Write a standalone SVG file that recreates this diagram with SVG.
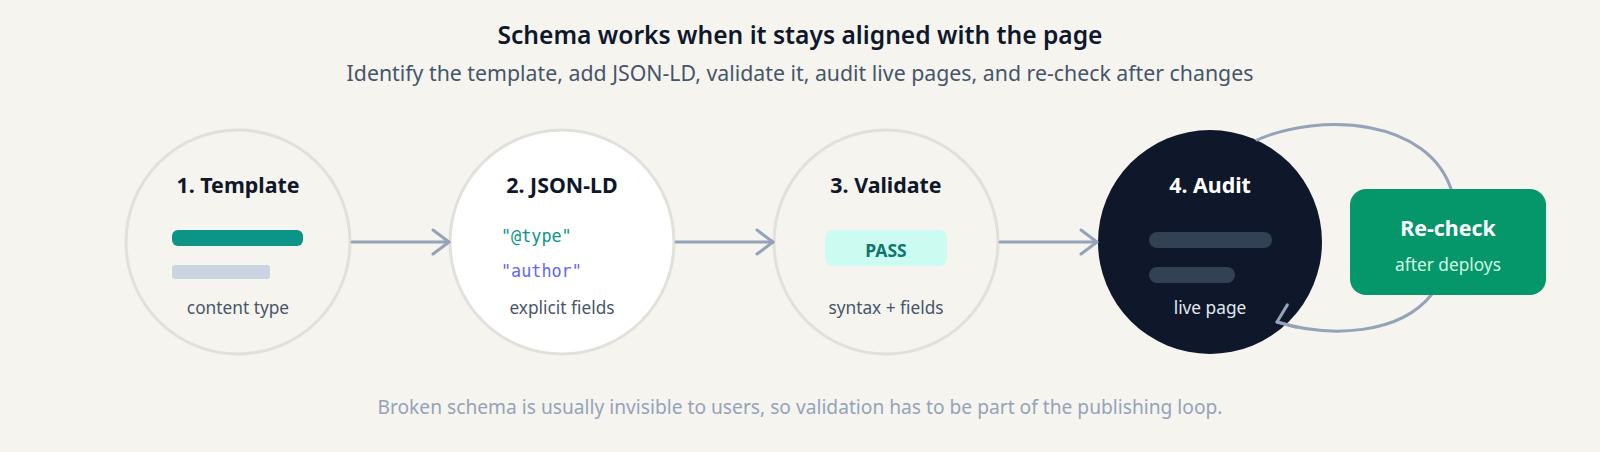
<svg xmlns="http://www.w3.org/2000/svg" width="1600" height="452" viewBox="0 0 1600 452">
  <style>
    .title { font-family: "Noto Sans", "Open Sans", sans-serif; font-size: 24.6px; font-weight: 600; fill: #0f172a; }
    .subtitle { font-family: "Noto Sans", "Open Sans", sans-serif; font-size: 21.3px; fill: #475569; }
    .footer { font-family: "Noto Sans", "Open Sans", sans-serif; font-size: 19.2px; fill: #94a3b8; }
    .ring { fill: #f5f4ef; stroke: #e2e0da; stroke-width: 3; }
    .head { font-family: "Noto Sans", "Open Sans", sans-serif; font-size: 21.4px; font-weight: 700; fill: #0f172a; text-anchor: middle; }
    .label { font-family: "Noto Sans", "Open Sans", sans-serif; font-size: 17.3px; fill: #475569; text-anchor: middle; }
    .mono { font-family: "DejaVu Sans Mono", "Liberation Mono", monospace; font-size: 16.8px; }
    .conn { fill: none; stroke: #94a3b8; stroke-width: 3; stroke-linecap: round; }
  </style>
  <defs>
    <marker id="chev" markerUnits="userSpaceOnUse" viewBox="0 0 22 30" markerWidth="22" markerHeight="30" refX="19" refY="15" orient="auto" overflow="visible">
      <path d="M3 3 L19 15 L3 27" fill="none" stroke="#94a3b8" stroke-width="3" stroke-linecap="round" stroke-linejoin="round"/>
    </marker>
    <marker id="chevLoop" markerUnits="userSpaceOnUse" viewBox="0 0 22 30" markerWidth="22" markerHeight="30" refX="19" refY="15" orient="158" overflow="visible">
      <path d="M3 3 L19 15 L3 27" fill="none" stroke="#94a3b8" stroke-width="3" stroke-linecap="round" stroke-linejoin="round"/>
    </marker>
  </defs>
  <rect width="1600" height="452" fill="#f5f4ef"/>

  <text class="title" x="800" y="44" text-anchor="middle">Schema works when it stays aligned with the page</text>
  <text class="subtitle" x="800" y="81" text-anchor="middle">Identify the template, add JSON-LD, validate it, audit live pages, and re-check after changes</text>

  <g id="node-template">
    <circle class="ring" cx="238" cy="242" r="112"/>
    <text class="head" x="238" y="193">1. Template</text>
    <rect x="172" y="230" width="131" height="16" rx="6" fill="#0d9488"/>
    <rect x="172" y="265" width="98" height="14" rx="3" fill="#cbd5e1"/>
    <text class="label" x="238" y="314">content type</text>
  </g>

  <g id="node-jsonld">
    <circle class="ring" cx="562" cy="242" r="112" style="fill:#ffffff"/>
    <text class="head" x="562" y="193">2. JSON-LD</text>
    <text class="mono" x="501" y="242" fill="#0d9488">"@type"</text>
    <text class="mono" x="501" y="277" fill="#6366f1">"author"</text>
    <text class="label" x="562" y="314">explicit fields</text>
  </g>

  <g id="node-validate">
    <circle class="ring" cx="886" cy="242" r="112"/>
    <text class="head" x="886" y="193">3. Validate</text>
    <rect x="825" y="230" width="122" height="36" rx="8" fill="#ccfbf1"/>
    <text x="886" y="257" text-anchor="middle" font-family="Noto Sans, Open Sans, sans-serif" font-size="17.5" font-weight="700" fill="#0f766e">PASS</text>
    <text class="label" x="886" y="314">syntax + fields</text>
  </g>

  <g id="node-audit">
    <circle cx="1210" cy="242" r="112" fill="#0f172a"/>
    <text class="head" x="1210" y="193" style="fill:#ffffff">4. Audit</text>
    <rect x="1149" y="232" width="123" height="16" rx="8" fill="#334155"/>
    <rect x="1149" y="267" width="86" height="16" rx="8" fill="#334155"/>
    <text class="label" x="1210" y="314" style="fill:#e2e8f0">live page</text>
  </g>

  <g id="connectors">
    <line class="conn" x1="352" y1="242" x2="449" y2="242" marker-end="url(#chev)"/>
    <line class="conn" x1="676" y1="242" x2="773" y2="242" marker-end="url(#chev)"/>
    <line class="conn" x1="1000" y1="242" x2="1097" y2="242" marker-end="url(#chev)"/>
    <path class="conn" d="M1257 140 C1320 112, 1430 118, 1452 192 L1432 294 C1400 335, 1330 338, 1277 322" marker-end="url(#chevLoop)"/>
  </g>

  <g id="node-recheck">
    <rect x="1350" y="189" width="196" height="106" rx="16" fill="#059669"/>
    <text class="head" x="1448" y="236" style="fill:#ffffff">Re-check</text>
    <text class="label" x="1448" y="271" style="fill:#d1fae5">after deploys</text>
  </g>

  <text class="footer" x="800" y="414" text-anchor="middle">Broken schema is usually invisible to users, so validation has to be part of the publishing loop.</text>
</svg>
